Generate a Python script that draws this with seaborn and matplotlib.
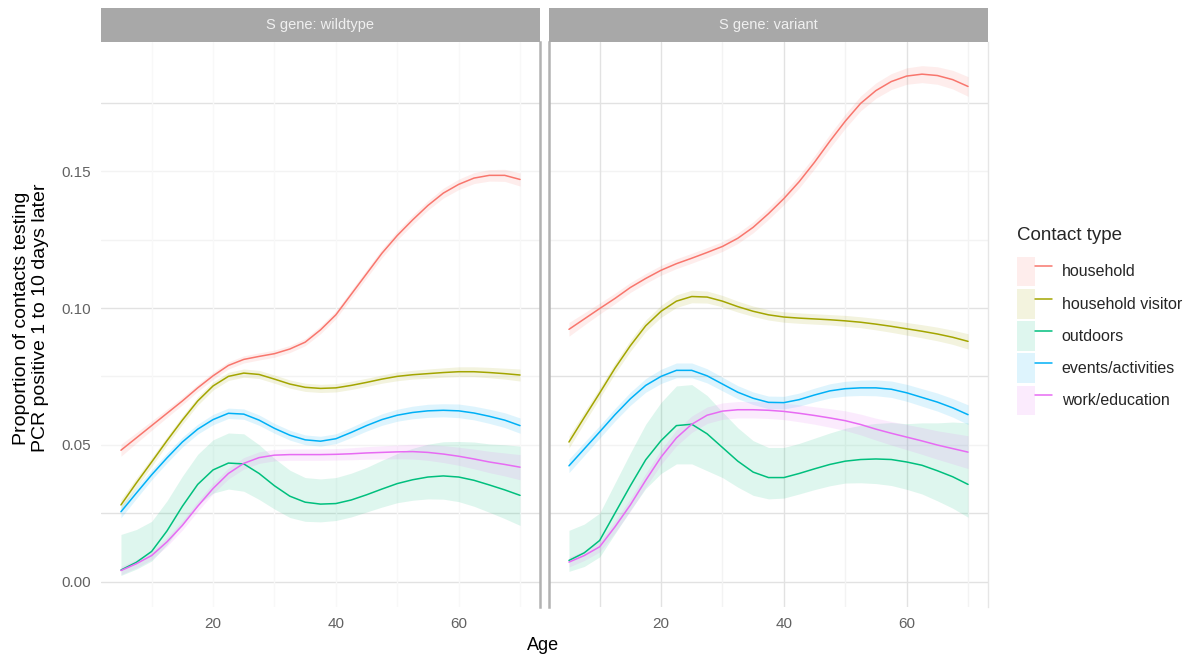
import numpy as np
import pandas as pd
import matplotlib
matplotlib.use("Agg")
import matplotlib.pyplot as plt
from matplotlib.patches import Rectangle, Patch
from matplotlib.lines import Line2D
from matplotlib.legend_handler import HandlerTuple
import seaborn as sns

# ---------------------------------------------------------------- data
ages = np.arange(5, 70.1, 2.5)  # 5, 7.5, ..., 70

contact_types = ["household", "household visitor", "outdoors",
                 "events/activities", "work/education"]
palette = ["#F8766D", "#A3A500", "#00BF7D", "#00B0F6", "#E76BF3"]
facets = ["S gene: wildtype", "S gene: variant"]

# S gene: wildtype -- smoothed proportions
wt_household = [0.0480, 0.0525, 0.0570, 0.0615, 0.0660, 0.0708, 0.0752, 0.0790, 0.0812,
                0.0823, 0.0833, 0.0850, 0.0875, 0.0920, 0.0975, 0.1050, 0.1125, 0.1200,
                0.1265, 0.1322, 0.1375, 0.1420, 0.1452, 0.1475, 0.1485, 0.1485, 0.1470]
wt_visitor = [0.0280, 0.0360, 0.0437, 0.0515, 0.0590, 0.0660, 0.0715, 0.0750, 0.0762,
              0.0757, 0.0740, 0.0722, 0.0710, 0.0706, 0.0708, 0.0717, 0.0728, 0.0740,
              0.0750, 0.0756, 0.0760, 0.0764, 0.0767, 0.0767, 0.0764, 0.0760, 0.0755]
wt_outdoors = [0.0042, 0.0070, 0.0110, 0.0185, 0.0275, 0.0355, 0.0408, 0.0433, 0.0430,
               0.0395, 0.0350, 0.0312, 0.0290, 0.0283, 0.0285, 0.0298, 0.0317, 0.0338,
               0.0358, 0.0372, 0.0382, 0.0386, 0.0382, 0.0370, 0.0353, 0.0335, 0.0315]
wt_events = [0.0255, 0.0323, 0.0390, 0.0452, 0.0510, 0.0557, 0.0592, 0.0615, 0.0612,
             0.0590, 0.0560, 0.0535, 0.0518, 0.0513, 0.0522, 0.0545, 0.0570, 0.0592,
             0.0608, 0.0618, 0.0624, 0.0626, 0.0624, 0.0616, 0.0604, 0.0590, 0.0570]
wt_work = [0.0040, 0.0065, 0.0095, 0.0145, 0.0205, 0.0275, 0.0340, 0.0395, 0.0432,
           0.0453, 0.0462, 0.0464, 0.0464, 0.0464, 0.0465, 0.0467, 0.0470, 0.0472,
           0.0474, 0.0475, 0.0472, 0.0466, 0.0458, 0.0448, 0.0437, 0.0428, 0.0418]

# S gene: variant -- smoothed proportions
vr_household = [0.0922, 0.0960, 0.0998, 0.1035, 0.1075, 0.1108, 0.1138, 0.1162, 0.1182,
                0.1203, 0.1225, 0.1255, 0.1295, 0.1345, 0.1400, 0.1462, 0.1533, 0.1610,
                0.1683, 0.1748, 0.1795, 0.1828, 0.1848, 0.1855, 0.1850, 0.1835, 0.1810]
vr_visitor = [0.0510, 0.0600, 0.0689, 0.0780, 0.0862, 0.0935, 0.0988, 0.1025, 0.1042,
              0.1040, 0.1025, 0.1005, 0.0988, 0.0975, 0.0967, 0.0963, 0.0960, 0.0957,
              0.0953, 0.0948, 0.0941, 0.0933, 0.0924, 0.0915, 0.0905, 0.0893, 0.0878]
vr_outdoors = [0.0077, 0.0105, 0.0150, 0.0250, 0.0350, 0.0445, 0.0515, 0.0570, 0.0575,
               0.0540, 0.0490, 0.0440, 0.0400, 0.0380, 0.0380, 0.0395, 0.0412, 0.0428,
               0.0440, 0.0446, 0.0448, 0.0446, 0.0437, 0.0425, 0.0405, 0.0383, 0.0355]
vr_events = [0.0423, 0.0485, 0.0547, 0.0610, 0.0668, 0.0717, 0.0750, 0.0772, 0.0772,
             0.0752, 0.0722, 0.0692, 0.0670, 0.0655, 0.0654, 0.0665, 0.0682, 0.0697,
             0.0705, 0.0708, 0.0708, 0.0703, 0.0690, 0.0673, 0.0656, 0.0635, 0.0610]
vr_work = [0.0071, 0.0095, 0.0127, 0.0200, 0.0280, 0.0370, 0.0455, 0.0525, 0.0575,
           0.0608, 0.0623, 0.0628, 0.0628, 0.0626, 0.0622, 0.0615, 0.0607, 0.0598,
           0.0588, 0.0574, 0.0557, 0.0542, 0.0528, 0.0514, 0.0499, 0.0486, 0.0473]

# confidence band: distance from the curve to the upper / lower edge
wt_household_hw = [0.0022, 0.0019, 0.0017, 0.0015, 0.0014, 0.0013, 0.0013, 0.0013, 0.0013,
                   0.0013, 0.0013, 0.0013, 0.0013, 0.0014, 0.0014, 0.0015, 0.0015, 0.0016,
                   0.0016, 0.0017, 0.0017, 0.0018, 0.0019, 0.0020, 0.0021, 0.0022, 0.0024]
wt_visitor_hw = [0.0020, 0.0018, 0.0016, 0.0015, 0.0015, 0.0015, 0.0015, 0.0015, 0.0015,
                 0.0015, 0.0015, 0.0015, 0.0015, 0.0015, 0.0015, 0.0015, 0.0015, 0.0015,
                 0.0016, 0.0016, 0.0017, 0.0017, 0.0018, 0.0018, 0.0019, 0.0020, 0.0022]
wt_events_hw = [0.0022, 0.0020, 0.0018, 0.0018, 0.0018, 0.0018, 0.0019, 0.0019, 0.0019,
                0.0019, 0.0018, 0.0018, 0.0018, 0.0018, 0.0018, 0.0019, 0.0020, 0.0021,
                0.0022, 0.0023, 0.0024, 0.0024, 0.0025, 0.0025, 0.0026, 0.0027, 0.0028]
wt_work_hw = [0.0015, 0.0015, 0.0015, 0.0016, 0.0017, 0.0018, 0.0019, 0.0020, 0.0021,
              0.0021, 0.0021, 0.0021, 0.0021, 0.0021, 0.0021, 0.0022, 0.0023, 0.0024,
              0.0025, 0.0027, 0.0029, 0.0031, 0.0033, 0.0036, 0.0039, 0.0042, 0.0046]
wt_outdoors_up = [0.0130, 0.0120, 0.0110, 0.0110, 0.0110, 0.0110, 0.0110, 0.0110, 0.0110,
                  0.0105, 0.0100, 0.0095, 0.0090, 0.0092, 0.0095, 0.0098, 0.0100, 0.0105,
                  0.0110, 0.0115, 0.0120, 0.0125, 0.0130, 0.0140, 0.0150, 0.0165, 0.0180]
wt_outdoors_dn = [0.0020, 0.0025, 0.0035, 0.0050, 0.0065, 0.0075, 0.0085, 0.0095, 0.0100,
                  0.0095, 0.0085, 0.0078, 0.0070, 0.0065, 0.0062, 0.0062, 0.0063, 0.0066,
                  0.0070, 0.0075, 0.0080, 0.0085, 0.0090, 0.0095, 0.0100, 0.0105, 0.0110]

vr_household_hw = [0.0025, 0.0022, 0.0020, 0.0019, 0.0018, 0.0018, 0.0018, 0.0018, 0.0018,
                   0.0018, 0.0018, 0.0019, 0.0020, 0.0021, 0.0022, 0.0023, 0.0024, 0.0025,
                   0.0026, 0.0027, 0.0028, 0.0029, 0.0030, 0.0031, 0.0032, 0.0034, 0.0036]
vr_visitor_hw = [0.0022, 0.0020, 0.0019, 0.0019, 0.0020, 0.0021, 0.0022, 0.0023, 0.0023,
                 0.0022, 0.0021, 0.0020, 0.0019, 0.0019, 0.0019, 0.0019, 0.0019, 0.0019,
                 0.0020, 0.0020, 0.0021, 0.0022, 0.0023, 0.0024, 0.0025, 0.0026, 0.0028]
vr_events_hw = [0.0025, 0.0024, 0.0023, 0.0023, 0.0024, 0.0025, 0.0026, 0.0027, 0.0027,
                0.0026, 0.0025, 0.0024, 0.0023, 0.0023, 0.0023, 0.0024, 0.0025, 0.0026,
                0.0027, 0.0028, 0.0029, 0.0030, 0.0031, 0.0032, 0.0033, 0.0034, 0.0036]
vr_work_hw = [0.0018, 0.0018, 0.0019, 0.0021, 0.0023, 0.0025, 0.0027, 0.0029, 0.0030,
              0.0030, 0.0030, 0.0030, 0.0030, 0.0030, 0.0030, 0.0031, 0.0032, 0.0034,
              0.0036, 0.0038, 0.0040, 0.0043, 0.0046, 0.0049, 0.0052, 0.0056, 0.0060]
vr_outdoors_up = [0.0110, 0.0105, 0.0100, 0.0110, 0.0120, 0.0130, 0.0140, 0.0145, 0.0145,
                  0.0140, 0.0130, 0.0122, 0.0115, 0.0110, 0.0110, 0.0110, 0.0112, 0.0115,
                  0.0120, 0.0125, 0.0130, 0.0135, 0.0140, 0.0155, 0.0175, 0.0200, 0.0225]
vr_outdoors_dn = [0.0040, 0.0050, 0.0060, 0.0075, 0.0090, 0.0105, 0.0120, 0.0140, 0.0145,
                  0.0135, 0.0110, 0.0095, 0.0085, 0.0078, 0.0075, 0.0075, 0.0076, 0.0078,
                  0.0080, 0.0085, 0.0090, 0.0095, 0.0100, 0.0105, 0.0110, 0.0115, 0.0120]

# --------------------------------------------------------- long table
curves = {
    facets[0]: {
        "household": (wt_household, wt_household_hw, wt_household_hw),
        "household visitor": (wt_visitor, wt_visitor_hw, wt_visitor_hw),
        "outdoors": (wt_outdoors, wt_outdoors_up, wt_outdoors_dn),
        "events/activities": (wt_events, wt_events_hw, wt_events_hw),
        "work/education": (wt_work, wt_work_hw, wt_work_hw),
    },
    facets[1]: {
        "household": (vr_household, vr_household_hw, vr_household_hw),
        "household visitor": (vr_visitor, vr_visitor_hw, vr_visitor_hw),
        "outdoors": (vr_outdoors, vr_outdoors_up, vr_outdoors_dn),
        "events/activities": (vr_events, vr_events_hw, vr_events_hw),
        "work/education": (vr_work, vr_work_hw, vr_work_hw),
    },
}

rows = []
for gene, series in curves.items():
    for contact, (mid, up, dn) in series.items():
        for a, m, u, d in zip(ages, mid, up, dn):
            rows.append(dict(gene=gene, contact=contact, age=a,
                             prop=m, upper=m + u, lower=m - d))
df = pd.DataFrame(rows)

# --------------------------------------------------------------- style
sns.set_style("white")
plt.rcParams["font.family"] = ["Liberation Sans", "DejaVu Sans"]

W, H = 1200, 665
fig = plt.figure(figsize=(W / 100, H / 100), dpi=100)
fig.patch.set_facecolor("white")

panel_top, panel_bot = 42, 607
strip_top = 8
panels_px = [(101, 540), (549, 988)]
xlim = (1.75, 73.25)
# 0.00 sits at 581.5 px and 0.05 spans 136.75 px
y_zero_px, px_per_unit = 581.5, 2735.0
ylim = ((y_zero_px - panel_bot) / px_per_unit, (y_zero_px - panel_top) / px_per_unit)

strip_fill = "#a8a8a8"
tick_col = "#626262"
color_map = dict(zip(contact_types, palette))

grid_strong = "#e2e2e2"
grid_faint = "#f3f3f3"

axes = []
for i, ((x0, x1), gene) in enumerate(zip(panels_px, facets)):
    ax = fig.add_axes([x0 / W, 1 - panel_bot / H, (x1 - x0) / W,
                       (panel_bot - panel_top) / H])
    axes.append(ax)
    sub = df[df["gene"] == gene]

    # background grid
    strong_h = [0.0, 0.025, 0.10, 0.175] + ([0.075] if i == 1 else [])
    faint_h = [0.05, 0.125, 0.15] + ([0.075] if i == 0 else [])
    for yv in strong_h:
        ax.axhline(yv, color=grid_strong, lw=1.0, zorder=0.5)
    for yv in faint_h:
        ax.axhline(yv, color=grid_faint, lw=1.0, zorder=0.5)
    if i == 1:
        for xv in [10, 20, 40, 60]:
            ax.axvline(xv, color=grid_strong, lw=1.0, zorder=0.5)
        for xv in [30, 50, 70]:
            ax.axvline(xv, color=grid_faint, lw=1.0, zorder=0.5)
    else:
        for xv in [10, 20, 30, 40, 50, 60, 70]:
            ax.axvline(xv, color="#f8f8f8", lw=1.0, zorder=0.5)

    # confidence ribbons
    for contact in contact_types:
        s = sub[sub["contact"] == contact]
        ax.fill_between(s["age"], s["lower"], s["upper"],
                        color=color_map[contact], alpha=0.13, lw=0, zorder=1)

    # smoothed curves
    sns.lineplot(data=sub, x="age", y="prop", hue="contact",
                 hue_order=contact_types, palette=palette, errorbar=None,
                 legend=False, lw=1.1, ax=ax, zorder=3)

    ax.set_xlim(*xlim)
    ax.set_ylim(*ylim)
    ax.set_xticks([20, 40, 60])
    ax.set_yticks([0.00, 0.05, 0.10, 0.15])
    ax.set_xlabel("")
    ax.set_ylabel("")
    ax.tick_params(axis="both", length=3.6, width=0.8, color="#cfcfcf",
                   labelsize=11, labelcolor=tick_col, pad=3.5)
    for side in ["top", "bottom", "left", "right"]:
        ax.spines[side].set_visible(False)
    if i == 0:
        ax.yaxis.set_major_formatter(matplotlib.ticker.FuncFormatter(
            lambda v, p: f"{v:.2f}"))
        ax.spines["right"].set_visible(True)
        ax.spines["right"].set_color("#b2b2b2")
        ax.spines["right"].set_linewidth(1.8)
    else:
        ax.tick_params(axis="y", left=False, labelleft=False)
        ax.spines["left"].set_visible(True)
        ax.spines["left"].set_color("#b2b2b2")
        ax.spines["left"].set_linewidth(1.8)
        ax.spines["right"].set_visible(True)
        ax.spines["right"].set_color("#e6e6e6")
        ax.spines["right"].set_linewidth(1.0)

    # facet strip
    fig.patches.append(Rectangle((x0 / W, 1 - panel_top / H), (x1 - x0) / W,
                                 (panel_top - strip_top) / H,
                                 transform=fig.transFigure,
                                 facecolor=strip_fill, edgecolor="none"))
    fig.text((x0 + x1) / 2 / W, 1 - (panel_top + strip_top) / 2 / H, gene,
             ha="center", va="center", fontsize=10.5, color="#f0f0f0")

# axis titles
fig.text(543 / W, 1 - 645 / H, "Age", ha="center", va="center",
         fontsize=13, color="black")
fig.text(31 / W, 1 - 318 / H,
         "Proportion of contacts testing\nPCR positive 1 to 10 days later",
         ha="center", va="center", rotation=90, fontsize=14,
         color="black", linespacing=1.1)

# legend: line over a translucent band, as in the panels
handles = [(Patch(facecolor=c, alpha=0.13, edgecolor="none"),
            Line2D([], [], color=c, lw=1.1)) for c in palette]
leg = fig.legend(handles, contact_types, title="Contact type",
                 loc="upper left", bbox_to_anchor=(1017 / W, 1 - 227 / H),
                 frameon=False, fontsize=11.5, title_fontsize=13.5,
                 handler_map={tuple: HandlerTuple(ndivide=None, pad=0)},
                 handlelength=2.2, handleheight=2.5, labelspacing=0.15,
                 handletextpad=0.6, borderpad=0, borderaxespad=0)
leg._legend_box.align = "left"
leg._legend_box.sep = 9

fig.savefig("out.png", dpi=100, facecolor="white")
